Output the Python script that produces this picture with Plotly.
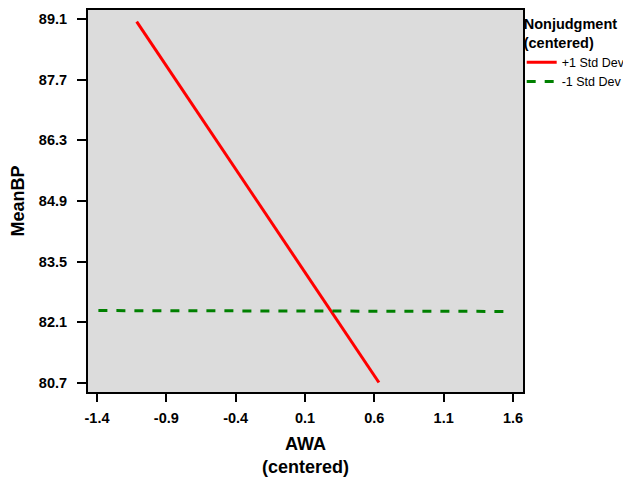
import plotly.graph_objects as go

# Data
series_names = ["+1 Std Dev", "-1 Std Dev"]
plus_x = [-1.114, 0.633]
plus_y = [89.04, 80.71]
minus_x = [-1.39, 1.57]
minus_y = [82.37, 82.35]
x_ticks = [-1.4, -0.9, -0.4, 0.1, 0.6, 1.1, 1.6]
y_ticks = [80.7, 82.1, 83.5, 84.9, 86.3, 87.7, 89.1]

font_family = "Liberation Sans, Arial, sans-serif"

fig = go.Figure()
fig.add_trace(go.Scatter(x=plus_x, y=plus_y, mode="lines", name=series_names[0],
                         line=dict(color="#ff0000", width=3)))
fig.add_trace(go.Scatter(x=minus_x, y=minus_y, mode="lines", name=series_names[1],
                         line=dict(color="#008000", width=3, dash="dash")))

fig.update_layout(
    width=623, height=469,
    margin=dict(l=80, r=108, t=2, b=85, autoexpand=False),
    paper_bgcolor="white",
    plot_bgcolor="#dcdcdc",
    font=dict(family=font_family, color="black"),
    legend=dict(
        title=dict(text="<b>Nonjudgment<br>(centered)</b>", font=dict(size=14.5, family=font_family)),
        x=0.997, y=1.0, xanchor="left", yanchor="top",
        font=dict(size=12.5, family=font_family),
        bgcolor="rgba(0,0,0,0)",
        itemwidth=30,
        tracegroupgap=0,
    ),
    xaxis=dict(
        range=[-1.465, 1.672],
        tickvals=x_ticks,
        ticktext=[f"<b>{v:.1f}</b>" for v in x_ticks],
        tickfont=dict(size=14.5),
        ticks="outside", ticklen=8, tickwidth=2, tickcolor="black",
        ticklabelstandoff=4,
        showline=True, linewidth=2, linecolor="black", mirror=True,
        showgrid=False, zeroline=False,
        title=dict(text="<b>AWA<br>(centered)</b>", font=dict(size=18), standoff=14),
    ),
    yaxis=dict(
        range=[80.49, 89.31],
        tickvals=y_ticks,
        ticktext=[f"<b>{v:.1f}</b>" for v in y_ticks],
        tickfont=dict(size=14.5),
        ticks="outside", ticklen=9, tickwidth=2, tickcolor="black",
        ticklabelstandoff=7,
        showline=True, linewidth=2, linecolor="black", mirror=True,
        showgrid=False, zeroline=False,
        title=dict(text="<b>MeanBP</b>", font=dict(size=18), standoff=12),
    ),
)

fig.write_html("out.html")
